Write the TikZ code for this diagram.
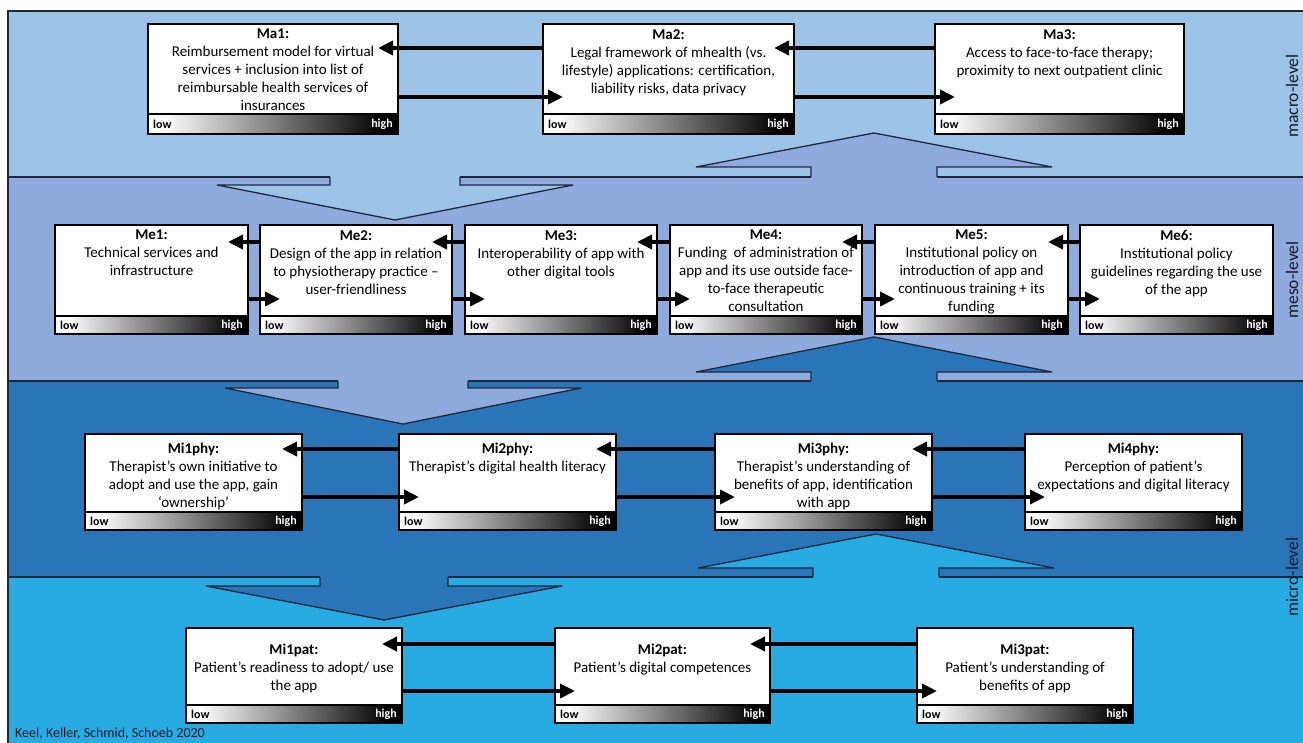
\documentclass[tikz,border=0pt]{standalone}
\usepackage{fontspec}
\setmainfont{Carlito}
\usetikzlibrary{arrows.meta,calc}
\definecolor{cmacro}{RGB}{157,195,230}
\definecolor{cmeso}{RGB}{143,170,220}
\definecolor{cphy}{RGB}{42,117,183}
\definecolor{cpat}{RGB}{40,170,226}
\definecolor{cline}{RGB}{30,40,60}
\definecolor{clabel}{RGB}{25,25,35}
\pgfdeclarehorizontalshading{lowhigh}{100bp}{color(0bp)=(white); color(28bp)=(white); color(72bp)=(black); color(100bp)=(black)}

\tikzset{
  boxnode/.style={draw=black, fill=white, line width=1.8pt, inner sep=0pt, outer sep=0pt},
  barnode/.style={draw=black, line width=1.5pt, shade, shading=lowhigh, inner sep=0pt, outer sep=0pt},
  lowlab/.style={font=\fontsize{12}{12}\selectfont\bfseries, text=black, inner sep=0pt},
  highlab/.style={font=\fontsize{12}{12}\selectfont\bfseries, text=white, inner sep=0pt},
  txt/.style={align=center, font=\fontsize{15}{18}\selectfont, inner sep=0pt, text=black},
  arr/.style={draw=black, line width=3.6pt, -{Triangle[length=15pt,width=14pt]}},
  bigarr/.style={draw=cline, line width=1.3pt, line join=miter},
  bline/.style={draw=cline, line width=1.3pt},
  lvl/.style={font=\fontsize{17.5}{17.5}\selectfont, text=clabel, rotate=90, inner sep=0pt},
}

% #1 name, #2 x, #3 y, #4 w, #5 h, #6 bar height, #7 text offset, #8 text
\newcommand\lvbox[8]{%
  \node[boxnode, minimum width=#4pt, minimum height=#5pt, anchor=north west] (#1) at (#2,#3) {};
  \node[barnode, minimum width=#4pt, minimum height=#6pt, anchor=south west] (#1bar) at (#1.south west) {};
  \node[lowlab, anchor=west] (#1low) at ([xshift=5pt]#1bar.west) {low};
  \node[highlab, anchor=east] (#1high) at ([xshift=-5pt]#1bar.east) {high};
  \node[txt, anchor=north] (#1txt) at ([yshift=-#7pt]#1.north) {#8};
}
% #1 left box, #2 right box, #3 upper offset, #4 lower offset
\newcommand\linkpair[4]{%
  \draw[arr] ([yshift=-#3pt]#2.north west) -- ([xshift=-20pt,yshift=-#3pt]#1.north east);
  \draw[arr] ([yshift=-#4pt]#1.north east) -- ([xshift=20pt,yshift=-#4pt]#2.north west);
}
% #1 colour, #2 centre x, #3 shaft half width, #4 boundary y, #5 head base y, #6 tip y
\newcommand\blockarr[6]{%
  \filldraw[bigarr, fill=#1] (#2-#3,#4) -- (#2-#3,#5) -- (#2-178,#5) -- (#2,#6) -- (#2+178,#5) -- (#2+#3,#5) -- (#2+#3,#4);
}

\begin{document}
\begin{tikzpicture}[x=1pt,y=-1pt]
\useasboundingbox (0,0) rectangle (1303,743);
\fill[white] (0,0) rectangle (1303,743);
% bands
\fill[cmacro] (8,11) rectangle (1303,177);
\fill[cmeso] (8,177) rectangle (1303,381);
\fill[cphy] (8,381) rectangle (1303,577);
\fill[cpat] (8,577) rectangle (1303,743);
% big block arrows
\blockarr{cmacro}{395}{65}{177}{185}{220}
\blockarr{cmeso}{874}{63}{177}{167}{133}
\blockarr{cmeso}{403}{65}{381}{388}{424}
\blockarr{cphy}{874}{63}{381}{372}{337}
\blockarr{cphy}{384}{64}{577}{586}{620}
\blockarr{cpat}{876}{63}{577}{568}{534}
% outlines and boundaries
\draw[bline] (1303,11) -- (8,11) -- (8,743);
\draw[bline] (8,177) -- (330,177) (460,177) -- (811,177) (937,177) -- (1303,177);
\draw[bline] (8,381) -- (338,381) (468,381) -- (811,381) (937,381) -- (1303,381);
\draw[bline] (8,577) -- (320,577) (448,577) -- (813,577) (939,577) -- (1303,577);

% macro level
\lvbox{Ma1}{148}{24}{250}{110}{20}{5}{\textbf{Ma1:}\\Reimbursement model for virtual\\services + inclusion into list of\\reimbursable health services of\\insurances}
\lvbox{Ma2}{543}{24}{251}{110}{20}{5}{\textbf{Ma2:}\\Legal framework of mhealth (vs.\\lifestyle) applications: certification,\\liability risks, data privacy}
\lvbox{Ma3}{935}{24}{249}{110}{20}{5}{\textbf{Ma3:}\\Access to face-to-face therapy;\\proximity to next outpatient clinic}
% meso level
\lvbox{Me1}{55}{225}{193}{109}{18}{5}{\textbf{Me1:}\\Technical services and\\infrastructure}
\lvbox{Me2}{260}{225}{192}{109}{18}{5}{\textbf{Me2:}\\Design of the app in relation\\to physiotherapy practice –\\user-friendliness}
\lvbox{Me3}{465}{225}{192}{109}{18}{5}{\textbf{Me3:}\\Interoperability of app with\\other digital tools}
\lvbox{Me4}{670}{225}{192}{109}{18}{5}{\textbf{Me4:}\\Funding\ \ of administration of\\app and its use outside face-\\to-face therapeutic\\consultation}
\lvbox{Me5}{875}{225}{193}{109}{18}{5}{\textbf{Me5:}\\Institutional policy on\\introduction of app and\\continuous training + its\\funding}
\lvbox{Me6}{1080}{225}{193}{109}{18}{5}{\textbf{Me6:}\\Institutional policy\\guidelines regarding the use\\of the app}
% micro level: therapists
\lvbox{Mi1phy}{85}{434}{217}{96}{18}{9}{\textbf{Mi1phy:}\\Therapist’s own initiative to\\adopt and use the app, gain\\‘ownership’}
\lvbox{Mi2phy}{399}{434}{217}{96}{18}{9}{\textbf{Mi2phy:}\\Therapist’s digital health literacy}
\lvbox{Mi3phy}{715}{434}{217}{96}{18}{9}{\textbf{Mi3phy:}\\Therapist’s understanding of\\benefits of app, identification\\with app}
\lvbox{Mi4phy}{1025}{434}{217}{96}{18}{9}{\textbf{Mi4phy:}\\Perception of patient’s\\expectations and digital literacy}
% micro level: patients
\lvbox{Mi1pat}{186}{628}{216}{95}{18}{16}{\textbf{Mi1pat:}\\Patient’s readiness to adopt/ use\\the app}
\lvbox{Mi2pat}{555}{628}{215}{95}{18}{16}{\textbf{Mi2pat:}\\Patient’s digital competences}
\lvbox{Mi3pat}{917}{628}{216}{95}{18}{16}{\textbf{Mi3pat:}\\Patient’s understanding of\\benefits of app}

% connectors
\linkpair{Ma1}{Ma2}{24}{73}
\linkpair{Ma2}{Ma3}{24}{73}
\linkpair{Me1}{Me2}{17}{74}
\linkpair{Me2}{Me3}{17}{74}
\linkpair{Me3}{Me4}{17}{74}
\linkpair{Me4}{Me5}{17}{74}
\linkpair{Me5}{Me6}{17}{74}
\linkpair{Mi1phy}{Mi2phy}{15}{63}
\linkpair{Mi2phy}{Mi3phy}{15}{63}
\linkpair{Mi3phy}{Mi4phy}{15}{63}
\linkpair{Mi1pat}{Mi2pat}{16}{63}
\linkpair{Mi2pat}{Mi3pat}{16}{63}

% level labels
\node[lvl] (lmacro) at (1292,96) {macro-level};
\node[lvl] (lmeso) at (1292,280) {meso-level};
\node[lvl] (lmicro) at (1292,577) {micro-level};
% credit
\node[anchor=west, font=\fontsize{14}{14}\selectfont, text=clabel, inner sep=0pt] (credit) at (15,734) {Keel, Keller, Schmid, Schoeb 2020};
\end{tikzpicture}
\end{document}
